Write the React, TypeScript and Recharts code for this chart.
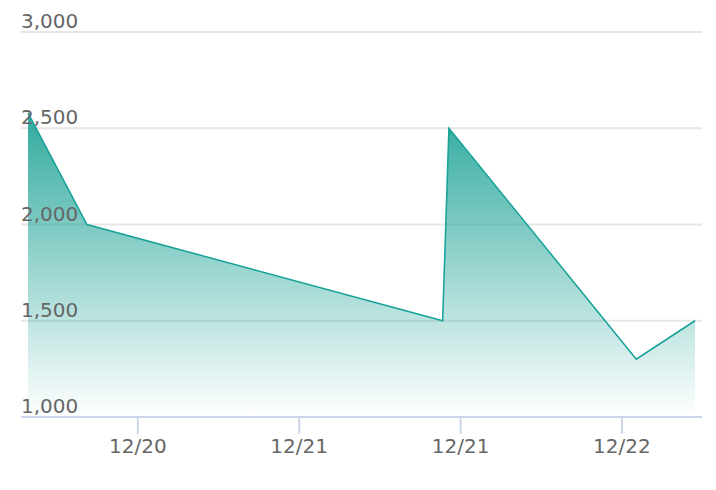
import { AreaChart, Area, XAxis, YAxis, CartesianGrid } from 'recharts';

// sample times (UTC) and values
const times = [
    '2023-12-20T03:50:00Z',
    '2023-12-20T08:13:00Z',
    '2023-12-21T10:40:00Z',
    '2023-12-21T11:08:00Z',
    '2023-12-22T01:04:00Z',
    '2023-12-22T05:26:00Z',
];
const values = [2580, 2000, 1500, 2500, 1300, 1500];

const xTicks = [
    '2023-12-20T12:00:00Z',
    '2023-12-21T00:00:00Z',
    '2023-12-21T12:00:00Z',
    '2023-12-22T00:00:00Z',
];
const yTicks = [1000, 1500, 2000, 2500, 3000];

const data = times.map((t, i) => ({ t: Date.parse(t), value: values[i] }));

const FONT = '"DejaVu Sans", sans-serif';

function formatDate(ms: number) {
    const d = new Date(ms);
    return `${d.getUTCMonth() + 1}/${d.getUTCDate()}`;
}

function renderYTick(props: any) {
    const { y, payload, index } = props;
    return (
        <text key={index} x={21} y={y - 4} textAnchor="start" fill="#666666" fontSize={20} fontFamily={FONT}>
            {Number(payload.value).toLocaleString('en-US')}
        </text>
    );
}

export default function App() {
    return (
        <div style={{ position: 'absolute', left: 0, top: 0 }}>
            <AreaChart width={716} height={490} data={data} margin={{ top: 32, right: 14, left: 20, bottom: 0 }}>
                <defs>
                    <linearGradient id="areaFill" x1="0" y1="0" x2="0" y2="1">
                        <stop offset="0%" stopColor="#26a69a" stopOpacity={0.95} />
                        <stop offset="100%" stopColor="#26a69a" stopOpacity={0} />
                    </linearGradient>
                </defs>
                <CartesianGrid vertical={false} stroke="#e6e6e6" strokeWidth={2} />
                <Area
                    type="linear"
                    dataKey="value"
                    stroke="#14a198"
                    strokeWidth={1.5}
                    fill="url(#areaFill)"
                    fillOpacity={1}
                    baseValue={1000}
                    dot={false}
                    activeDot={false}
                    isAnimationActive={false}
                />
                <XAxis
                    dataKey="t"
                    type="number"
                    scale="time"
                    domain={['dataMin', 'dataMax']}
                    ticks={xTicks.map((t) => Date.parse(t))}
                    tickFormatter={formatDate}
                    padding={{ left: 7, right: 7 }}
                    height={73}
                    axisLine={{ stroke: '#ccd6eb', strokeWidth: 2 }}
                    tickLine={{ stroke: '#ccd6eb', strokeWidth: 2 }}
                    tickSize={17}
                    tickMargin={5}
                    tick={{ fill: '#666666', fontSize: 20, fontFamily: FONT }}
                />
                <YAxis
                    type="number"
                    domain={[1000, 3000]}
                    ticks={yTicks}
                    width={1}
                    axisLine={false}
                    tickLine={false}
                    tick={renderYTick}
                />
            </AreaChart>
        </div>
    );
}
